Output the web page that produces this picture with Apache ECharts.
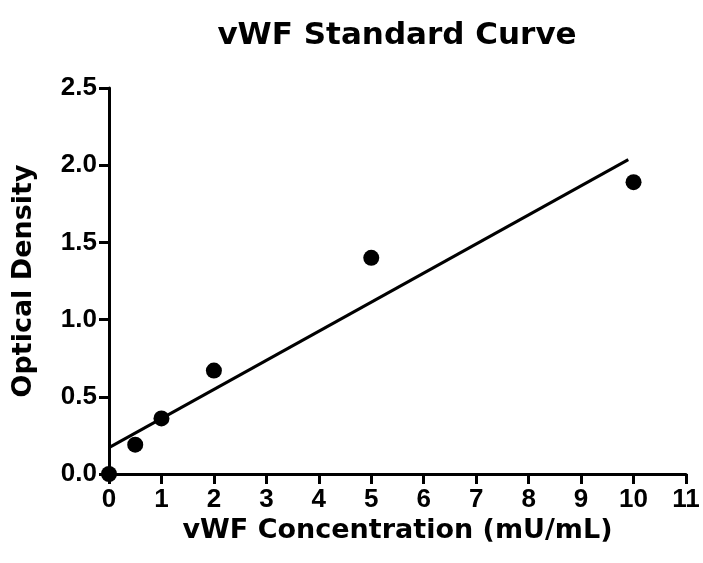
<!DOCTYPE html>
<html>
<head>
<meta charset="utf-8">
<script src="https://cdn.jsdelivr.net/npm/echarts@6/dist/echarts.min.js"></script>
<style>
  html, body { margin: 0; padding: 0; background: #fff; }
  #chart-container { width: 703px; height: 563px; }
</style>
</head>
<body>
<div id="chart-container"></div>
<script>
var concentration = [0, 0.5, 1, 2, 5, 10];
var density = [0.0, 0.19, 0.36, 0.67, 1.40, 1.89];
// linear fit endpoints
var fitX = [0, 9.9];
var fitY = [0.171, 2.036];

var dom = document.getElementById('chart-container');
var myChart = echarts.init(dom, null, { renderer: 'canvas' });
var titleFont = 'DejaVu Sans, Liberation Sans, sans-serif';
var tickFont = 'Liberation Sans, Arial, sans-serif';

var points = concentration.map(function (x, i) { return [x, density[i]]; });
var fit = fitX.map(function (x, i) { return [x, fitY[i]]; });

var axisCommon = {
  axisLine: { show: true, onZero: false, lineStyle: { color: '#000', width: 3 } },
  axisTick: { show: true, length: 10, lineStyle: { color: '#000', width: 3 } },
  splitLine: { show: false },
  axisLabel: { color: '#000', fontFamily: tickFont, fontWeight: 'bold', fontSize: 26 },
  nameTextStyle: { color: '#000', fontFamily: titleFont, fontWeight: 'bold', fontSize: 27 }
};

var option = {
  animation: false,
  backgroundColor: '#fff',
  title: {
    text: 'vWF Standard Curve',
    left: 392,
    textAlign: 'center',
    top: 15,
    textStyle: { color: '#000', fontFamily: titleFont, fontWeight: 'bold', fontSize: 31 }
  },
  grid: { left: 109, right: 17, top: 88, bottom: 89 },
  xAxis: Object.assign({}, axisCommon, {
    type: 'value',
    min: 0,
    max: 11,
    interval: 1,
    name: 'vWF Concentration (mU/mL)',
    nameLocation: 'middle',
    nameGap: 36,
    axisLabel: Object.assign({}, axisCommon.axisLabel, { margin: 13 })
  }),
  yAxis: Object.assign({}, axisCommon, {
    type: 'value',
    min: 0,
    max: 2.5,
    interval: 0.5,
    name: 'Optical Density',
    nameLocation: 'middle',
    nameGap: 72,
    axisLabel: Object.assign({}, axisCommon.axisLabel, {
      margin: 12,
      formatter: function (v) { return v.toFixed(1); }
    })
  }),
  series: [
    {
      type: 'line',
      data: fit,
      symbol: 'none',
      lineStyle: { color: '#000', width: 3 },
      z: 2
    },
    {
      type: 'scatter',
      data: points,
      symbol: 'circle',
      symbolSize: 16,
      itemStyle: { color: '#000', opacity: 1 },
      clip: false,
      z: 3
    }
  ]
};

myChart.setOption(option);
window.addEventListener('resize', myChart.resize);
</script>
</body>
</html>
